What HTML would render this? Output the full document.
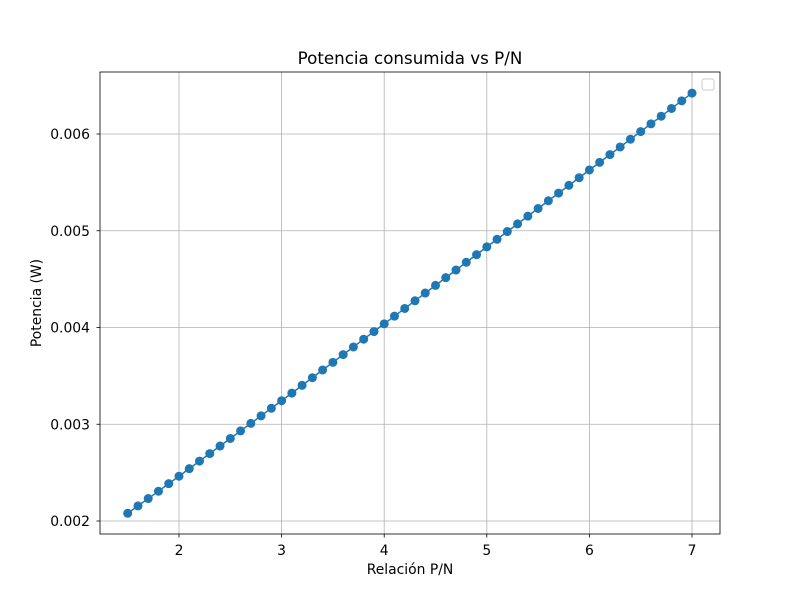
<!DOCTYPE html>
<html><head><meta charset="utf-8"><style>body{margin:0;background:#fff}svg{display:block;font-family:"DejaVu Sans","Liberation Sans",sans-serif}</style></head>
<body>
<svg id="chart" width="800" height="600">
<rect width="800" height="600" fill="#fff"/>
<g id="grid"></g>
<g id="series"></g>
<rect x="100" y="72" width="620" height="462" fill="none" stroke="#000" stroke-width="0.8"/>
<g id="axes"></g>
<text x="410" y="64" text-anchor="middle" font-size="16.7">Potencia consumida vs P/N</text>
<text x="410" y="574" text-anchor="middle" font-size="13.9">Relación P/N</text>
<text transform="translate(41,303) rotate(-90)" text-anchor="middle" font-size="13.9">Potencia (W)</text>
<rect x="702" y="79" width="12" height="11" rx="2" fill="#fff" stroke="#ccc"/>
</svg>
<script>
const xValues=[1.5,1.6,1.7,1.8,1.9,2.0,2.1,2.2,2.3,2.4,2.5,2.6,2.7,2.8,2.9,3.0,3.1,3.2,3.3,3.4,3.5,3.6,3.7,3.8,3.9,4.0,4.1,4.2,4.3,4.4,4.5,4.6,4.7,4.8,4.9,5.0,5.1,5.2,5.3,5.4,5.5,5.6,5.7,5.8,5.9,6.0,6.1,6.2,6.3,6.4,6.5,6.6,6.7,6.8,6.9,7.0];
const powerValues=[2.080,2.156,2.232,2.308,2.386,2.463,2.541,2.619,2.697,2.775,2.853,2.931,3.009,3.087,3.165,3.243,3.322,3.402,3.481,3.561,3.640,3.720,3.799,3.879,3.958,4.038,4.117,4.197,4.276,4.356,4.435,4.515,4.594,4.674,4.753,4.833,4.912,4.992,5.071,5.151,5.230,5.310,5.389,5.469,5.548,5.628,5.707,5.787,5.866,5.946,6.025,6.105,6.184,6.264,6.343,6.423];
const xTicks=[2,3,4,5,6,7];
const yTicks=[0.002,0.003,0.004,0.005,0.006];
const yTickLabels=["0.002","0.003","0.004","0.005","0.006"];
const NS="http://www.w3.org/2000/svg";
function sx(v){return 179+(v-2)*102.6;}
function sy(v){return 521-(v-0.002)*96750;}
function mk(tag,attrs,parent){const e=document.createElementNS(NS,tag);for(const k in attrs)e.setAttribute(k,attrs[k]);parent.appendChild(e);return e;}
const grid=document.getElementById('grid'),axes=document.getElementById('axes'),series=document.getElementById('series');
xTicks.forEach(t=>{const x=sx(t);
 let g=mk('line',{x1:x,x2:x,y1:72,y2:534,stroke:'#b0b0b0','stroke-width':0.8},grid);
 
 
 let tk=mk('line',{x1:x,x2:x,y1:534,y2:537.5,stroke:'#000','stroke-width':0.8},axes);
 
 
 let tx=mk('text',{x:x,y:555,'text-anchor':'middle','font-size':13.9},axes);tx.textContent=String(t);
 
 });
yTicks.forEach((t,i)=>{const y=sy(t);
 let g=mk('line',{x1:100,x2:720,y1:y,y2:y,stroke:'#b0b0b0','stroke-width':0.8},grid);
 
 
 let tk=mk('line',{x1:96.5,x2:100,y1:y,y2:y,stroke:'#000','stroke-width':0.8},axes);
 
 
 let tx=mk('text',{x:90,y:y+5,'text-anchor':'end','font-size':13.9},axes);tx.textContent=yTickLabels[i];
 
 });
const pts=xValues.map((x,i)=>sx(x)+','+sy(powerValues[i]/1000)).join(' ');
const line=mk('polyline',{points:pts,fill:'none',stroke:'#1f77b4','stroke-width':1.5},series);


xValues.forEach((x,i)=>{const c=mk('circle',{cx:sx(x),cy:sy(powerValues[i]/1000),r:4.5,fill:'#1f77b4'},series);
 
 });
</script>
</body></html>
